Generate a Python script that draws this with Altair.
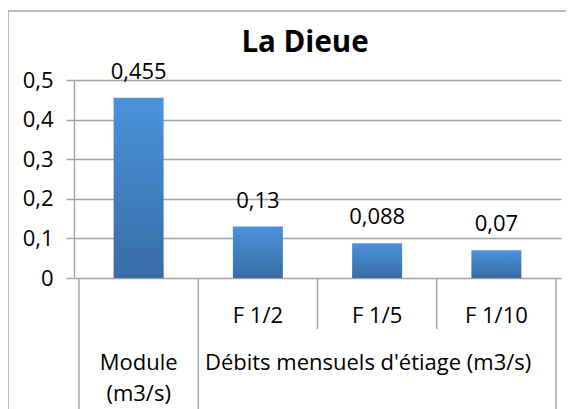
import altair as alt
import pandas as pd

title_text = "La Dieue"
categories = ["Module", "F 1/2", "F 1/5", "F 1/10"]
values = [0.455, 0.13, 0.088, 0.07]
sub_labels = ["", "F 1/2", "F 1/5", "F 1/10"]
groups = ["Module\n(m3/s)", "Débits mensuels d'étiage (m3/s)"]
group_start = [0, 1]
group_end = [1, 4]
y_ticks = [0, 0.1, 0.2, 0.3, 0.4, 0.5]

FONT = "Open Sans"
FS = 22
GRAY = "#a3a3a3"

bars_df = pd.DataFrame({
    "cat": categories,
    "idx": [i + 0.5 for i in range(len(categories))],
    "v": values,
    "sub": sub_labels,
})
grp_df = pd.DataFrame({
    "g": groups,
    "c": [(a + b) / 2 for a, b in zip(group_start, group_end)],
    "dx": [0, -9],
})
long_div = pd.DataFrame({"b": sorted(set(group_start + group_end))})
short_div = pd.DataFrame({"b": [b for b in range(1, len(categories)) if b not in group_start + group_end]})

xs = alt.Scale(domain=[0, len(categories)], nice=False, zero=False)
ys = alt.Scale(domain=[0, 0.5], nice=False)

y_axis = alt.Axis(
    values=y_ticks, format=".1~f", labelOverlap=False,
    labelExpr="replace(datum.label, '.', ',')",
    title=None, grid=True, gridColor=GRAY, gridWidth=1.4,
    domainColor=GRAY, domainWidth=1.4, tickColor=GRAY, tickWidth=1.4,
    tickSize=8, labelPadding=13, labelFontSize=FS, labelFont=FONT,
    labelColor="#000000",
)

base = alt.Chart(bars_df)

frame = alt.Chart(pd.DataFrame({"d": [0]})).mark_rect(
    fill=None, stroke=GRAY, strokeWidth=1.5
).encode(
    x=alt.value(-66), x2=alt.value(505), y=alt.value(-69), y2=alt.value(400)
)

bars = base.mark_bar(
    size=50,
    color=alt.Gradient(
        gradient="linear",
        stops=[alt.GradientStop(color="#4a93db", offset=0),
               alt.GradientStop(color="#386ca6", offset=1)],
        x1=0, x2=0, y1=0, y2=1,
    ),
).encode(
    x=alt.X("idx:Q", scale=xs, axis=None),
    y=alt.Y("v:Q", scale=ys, axis=y_axis),
)

vlabels = base.transform_calculate(
    lbl="replace(toString(datum.v), '.', ',')"
).mark_text(font=FONT, fontSize=FS, color="#000000", baseline="alphabetic", dy=-19).encode(
    x=alt.X("idx:Q", scale=xs, axis=None),
    y=alt.Y("v:Q", scale=ys, axis=y_axis),
    text="lbl:N",
)

sublbl = base.mark_text(font=FONT, fontSize=FS, color="#000000", baseline="alphabetic").encode(
    x=alt.X("idx:Q", scale=xs, axis=None),
    y=alt.value(243),
    text="sub:N",
)

grp_module = alt.Chart(grp_df.iloc[[0]]).mark_text(
    font=FONT, fontSize=FS, color="#000000", baseline="alphabetic", lineBreak="\n", lineHeight=31
).encode(
    x=alt.X("c:Q", scale=xs, axis=None),
    y=alt.value(290),
    text="g:N",
)
grp_debits = alt.Chart(grp_df.iloc[[1]]).mark_text(
    font=FONT, fontSize=FS, color="#000000", baseline="alphabetic", dx=-9
).encode(
    x=alt.X("c:Q", scale=xs, axis=None),
    y=alt.value(290),
    text="g:N",
)

ldiv = alt.Chart(long_div).mark_rule(color=GRAY, strokeWidth=1.4).encode(
    x=alt.X("b:Q", scale=xs, axis=None), y=alt.value(198), y2=alt.value(400)
)
sdiv = alt.Chart(short_div).mark_rule(color=GRAY, strokeWidth=1.4).encode(
    x=alt.X("b:Q", scale=xs, axis=None), y=alt.value(198), y2=alt.value(249)
)

title = alt.Chart(pd.DataFrame({"t": [title_text]})).mark_text(
    font=FONT, fontSize=29.5, fontWeight="bold", color="#000000", baseline="alphabetic"
).encode(x=alt.value(231), y=alt.value(-28), text="t:N")

chart = alt.layer(frame, bars, ldiv, sdiv, vlabels, sublbl, grp_module, grp_debits, title).properties(
    width=487, height=198,
    autosize=alt.AutoSizeParams(type="none"),
    padding={"left": 66, "top": 72, "right": 5, "bottom": 131},
).configure_view(stroke=None)

chart.save("out.html", embed_options={"renderer": "svg", "actions": False})
